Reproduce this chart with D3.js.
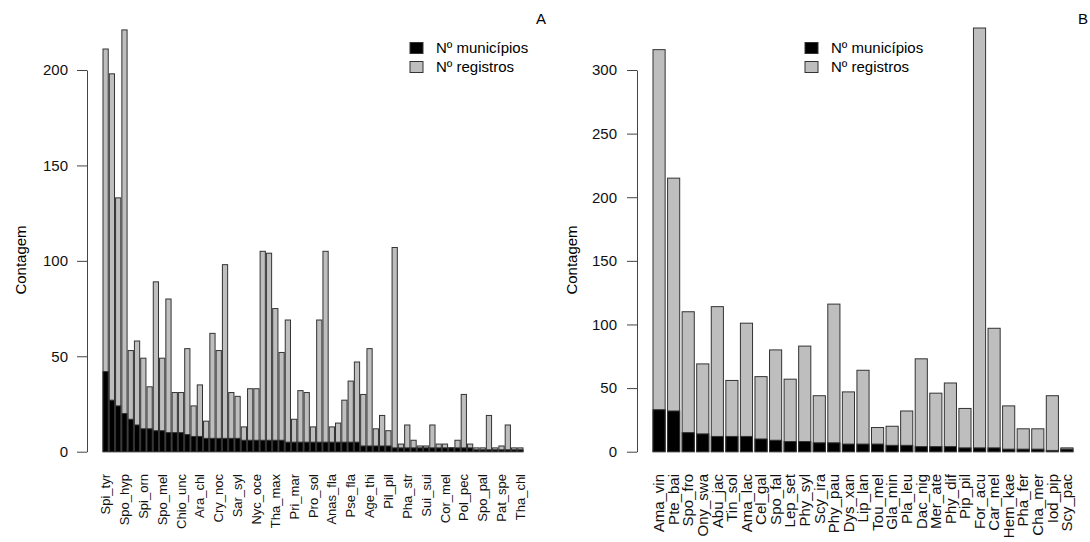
<!DOCTYPE html>
<html lang="pt">
<head>
    <meta charset="UTF-8">
    <title>Contagem por espécie</title>
    <script src="https://d3js.org/d3.v7.min.js"></script>
    <style>
        body {
            margin: 0;
            background: #fff;
            font-family: "Liberation Sans", Arial, sans-serif;
        }
        .bar {
            stroke: #333;
            stroke-width: 1;
        }
        .axis path,
        .axis line {
            stroke: #444;
        }
        .axis text {
            font-size: 15px;
            fill: #111;
            font-family: "Liberation Sans", Arial, sans-serif;
        }
        .name-label {
            fill: #111;
        }
    </style>
</head>
<body>

<svg id="chart" width="1090" height="542"></svg>

<script>
    // Panel A: 67 species, only every third name is printed under the axis
    const namesA = [
        "Spi_tyr", "", "", "Spo_hyp", "", "", "Spi_orn", "", "", "Spo_mel", "", "",
        "Chio_unc", "", "", "Ara_chl", "", "", "Cry_noc", "", "", "Sar_syl", "", "",
        "Nyc_oce", "", "", "Tha_max", "", "", "Pri_mar", "", "", "Pro_sol", "", "",
        "Anas_fla", "", "", "Pse_fla", "", "", "Age_thi", "", "", "Pil_pil", "", "",
        "Pha_str", "", "", "Sui_sui", "", "", "Cor_mel", "", "", "Pol_pec", "", "",
        "Spo_pal", "", "", "Pat_spe", "", "", "Tha_chl"
    ];
    const registrosA = [
        211, 198, 133, 221, 53, 58, 49, 34, 89, 49, 80, 31, 31, 54, 24, 35, 16, 62,
        53, 98, 31, 29, 13, 33, 33, 105, 104, 75, 52, 69, 17, 32, 31, 13, 69, 105,
        13, 15, 27, 37, 47, 30, 54, 12, 19, 11, 107, 4, 14, 6, 3, 3, 14, 4,
        4, 2, 6, 30, 4, 2, 2, 19, 2, 3, 14, 2, 2
    ];
    const municipiosA = [
        42, 27, 24, 20, 17, 14, 12, 12, 11, 11, 10, 10, 10, 9, 8, 8, 7, 7,
        7, 7, 7, 7, 6, 6, 6, 6, 6, 6, 6, 5, 5, 5, 5, 5, 5, 5,
        5, 5, 5, 5, 5, 3, 3, 3, 3, 3, 2, 2, 2, 2, 2, 2, 2, 2,
        2, 2, 2, 2, 2, 1, 1, 1, 1, 1, 1, 1, 1
    ];
    const ticksA = [0, 50, 100, 150, 200];

    // Panel B: 29 species, all names printed
    const namesB = [
        "Ama_vin", "Pte_bai", "Spo_fro", "Ony_swa", "Abu_jac", "Tin_sol", "Ama_lac",
        "Cel_gal", "Spo_fal", "Lep_set", "Phy_syl", "Scy_ira", "Phy_pau", "Dys_xan",
        "Lip_lan", "Tou_mel", "Gla_min", "Pla_leu", "Dac_nig", "Mer_ate", "Phy_dif",
        "Pip_pil", "For_acu", "Car_mel", "Hem_kae", "Pha_fer", "Cha_mer", "Iod_pip",
        "Scy_pac"
    ];
    const registrosB = [
        316, 215, 110, 69, 114, 56, 101, 59, 80, 57, 83, 44, 116, 47,
        64, 19, 20, 32, 73, 46, 54, 34, 333, 97, 36, 18, 18, 44, 3
    ];
    const municipiosB = [
        33, 32, 15, 14, 12, 12, 12, 10, 9, 8, 8, 7, 7, 6,
        6, 6, 5, 5, 4, 4, 4, 3, 3, 3, 2, 2, 2, 1, 2
    ];
    const ticksB = [0, 50, 100, 150, 200, 250, 300];

    const legendLabels = ["Nº municípios", "Nº registros"];
    const legendColors = ["#000000", "#bebebe"];
    const yTitle = "Contagem";

    const svg = d3.select("#chart");
    svg.append("rect").attr("width", 1090).attr("height", 542).attr("fill", "#fff");

    const baseY = 451.7;
    const topY = 70;

    function drawPanel(p) {
        const g = svg.append("g");

        const x = d3.scaleBand()
            .domain(d3.range(p.names.length))
            .range([p.barLeft, p.barRight])
            .paddingInner(0.2 / 1.2)
            .paddingOuter(0);

        const y = d3.scaleLinear()
            .domain([0, d3.max(p.ticks)])
            .range([baseY, topY]);

        // grey bars (registros) first, black bars (municípios) drawn over them
        g.selectAll(".reg")
            .data(p.registros)
            .enter()
            .append("rect")
            .attr("class", "bar reg")
            .attr("x", (d, i) => x(i))
            .attr("y", d => y(d))
            .attr("width", x.bandwidth())
            .attr("height", d => baseY - y(d))
            .attr("fill", legendColors[1]);

        g.selectAll(".mun")
            .data(p.municipios)
            .enter()
            .append("rect")
            .attr("class", "bar mun")
            .attr("x", (d, i) => x(i))
            .attr("y", d => y(d))
            .attr("width", x.bandwidth())
            .attr("height", d => baseY - y(d))
            .attr("fill", legendColors[0]);

        // y axis
        g.append("g")
            .attr("class", "axis")
            .attr("transform", `translate(${p.axisX},0)`)
            .call(d3.axisLeft(y).tickValues(p.ticks).tickSize(10).tickSizeOuter(0).tickPadding(p.tickPad));

        g.append("text")
            .attr("transform", `translate(${p.titleX},260) rotate(-90)`)
            .attr("text-anchor", "middle")
            .attr("dy", "0.35em")
            .style("font-size", "15px")
            .text(yTitle);

        // species names, rotated
        g.selectAll(".name-label")
            .data(p.names.map((n, i) => ({ n, i })).filter(d => d.n !== ""))
            .enter()
            .append("text")
            .attr("class", "name-label")
            .attr("transform", d => `translate(${x(d.i) + x.bandwidth() / 2},474) rotate(-90)`)
            .attr("text-anchor", "end")
            .attr("dy", "0.35em")
            .style("font-size", p.nameSize)
            .text(d => d.n);

        // legend
        legendLabels.forEach((lab, k) => {
            g.append("rect")
                .attr("x", p.legendX)
                .attr("y", 42.5 + k * 19)
                .attr("width", 13)
                .attr("height", 11)
                .attr("fill", legendColors[k])
                .attr("stroke", "#333");
            g.append("text")
                .attr("x", p.legendX + 26)
                .attr("y", 48 + k * 19)
                .attr("dy", "0.35em")
                .style("font-size", "15px")
                .text(lab);
        });

        // panel tag
        g.append("text")
            .attr("x", p.tagX)
            .attr("y", 24)
            .attr("text-anchor", "middle")
            .style("font-size", "15px")
            .text(p.tag);
    }

    drawPanel({
        names: namesA, registros: registrosA, municipios: municipiosA, ticks: ticksA,
        barLeft: 103, barRight: 523, axisX: 87, tickPad: 9, titleX: 21,
        legendX: 410, tagX: 541, tag: "A", nameSize: "13px"
    });

    drawPanel({
        names: namesB, registros: registrosB, municipios: municipiosB, ticks: ticksB,
        barLeft: 653, barRight: 1073, axisX: 637, tickPad: 10, titleX: 572,
        legendX: 805, tagX: 1083, tag: "B", nameSize: "15px"
    });
</script>

</body>
</html>
